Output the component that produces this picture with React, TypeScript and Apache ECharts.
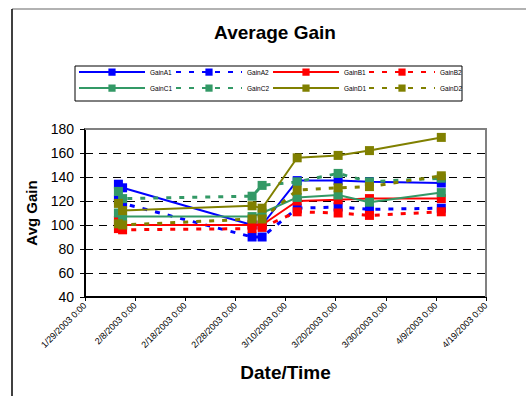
import React, { useEffect, useRef } from "react";
import * as echarts from "echarts";

// Sampling times for every gain series (UTC)
const sampleTimes = [
  "2003-02-04T16:00:00Z",
  "2003-02-05T12:00:00Z",
  "2003-03-03T08:00:00Z",
  "2003-03-05T08:00:00Z",
  "2003-03-12T08:00:00Z",
  "2003-03-20T12:00:00Z",
  "2003-03-26T18:00:00Z",
  "2003-04-10T02:00:00Z",
];

const tickLabels = [
  "1/29/2003 0:00",
  "2/8/2003 0:00",
  "2/18/2003 0:00",
  "2/28/2003 0:00",
  "3/10/2003 0:00",
  "3/20/2003 0:00",
  "3/30/2003 0:00",
  "4/9/2003 0:00",
  "4/19/2003 0:00",
];

const gainA1 = [134, 131, 100, 100, 137, 137, 136, 135];
const gainA2 = [121, 118, 90, 90, 114, 115, 113, 114];
const gainB1 = [104, 100, 100, 100, 120, 121, 122, 122];
const gainB2 = [97, 96, 97, 98, 111, 110, 108, 111];
const gainC1 = [110, 107, 107, 110, 123, 125, 119, 127];
const gainC2 = [128, 122, 124, 133, 136, 143, 136, 139];
const gainD1 = [118, 112, 116, 114, 156, 158, 162, 173];
const gainD2 = [101, 100, 105, 105, 129, 131, 132, 141];

const seriesNames = ["GainA1", "GainA2", "GainB1", "GainB2", "GainC1", "GainC2", "GainD1", "GainD2"];
const seriesValues = [gainA1, gainA2, gainB1, gainB2, gainC1, gainC2, gainD1, gainD2];
const seriesColors = ["#0000FF", "#0000FF", "#FF0000", "#FF0000", "#339966", "#339966", "#808000", "#808000"];

const axisStart = Date.UTC(2003, 0, 29);
const DAY = 86400000;
const dayOffsets = sampleTimes.map((t) => (Date.parse(t) - axisStart) / DAY);

const W = 526;
const H = 396;
const FONT = "'Liberation Sans', Arial, sans-serif";

const grid = { left: 85, top: 129, right: 40, bottom: 99 };
const plotRight = W - grid.right;
const plotBottom = H - grid.bottom;

// legend cells: column x positions and row centers
const legendCols = [78, 175, 272, 368];
const legendRows = [73, 89];

export default function App() {
  const ref = useRef<HTMLDivElement>(null);

  useEffect(() => {
    if (!ref.current) return;
    const chart = echarts.init(ref.current, undefined, { renderer: "svg" });

    const series = seriesNames.map((name, i) => {
      const dashed = i % 2 === 1;
      return {
        name,
        type: "line",
        data: seriesValues[i].map((v, k) => [dayOffsets[k], v]),
        symbol: "rect",
        symbolSize: 9,
        showSymbol: true,
        itemStyle: { color: seriesColors[i] },
        lineStyle: dashed
          ? { color: seriesColors[i], width: 3, type: [5, 8], cap: "butt" }
          : { color: seriesColors[i], width: 2, type: "solid" },
        z: 2 + i,
      };
    });

    const legends = seriesNames.map((name, i) => ({
      data: [name],
      left: legendCols[i % 4],
      top: legendRows[Math.floor(i / 4)] - 4.5,
      padding: 0,
      itemWidth: 66,
      itemHeight: 9,
      textStyle: { fontSize: 6.5, color: "#000", fontFamily: FONT },
      selectedMode: false,
    }));

    chart.setOption({
      animation: false,
      backgroundColor: "#fff",
      title: {
        text: "Average Gain",
        left: 270,
        top: 18,
        textAlign: "center",
        textStyle: { fontSize: 19, fontWeight: "bold", color: "#000", fontFamily: FONT },
      },
      legend: legends,
      grid: { left: grid.left, top: grid.top, right: grid.right, bottom: grid.bottom },
      xAxis: {
        type: "value",
        min: 0,
        max: 80,
        interval: 10,
        name: "Date/Time",
        nameLocation: "middle",
        nameGap: 66,
        nameTextStyle: { fontSize: 19, fontWeight: "bold", color: "#000", fontFamily: FONT },
        axisLine: { show: true, onZero: false, lineStyle: { color: "#000", width: 2 } },
        axisTick: { show: true, length: 4, lineStyle: { color: "#000" } },
        splitLine: { show: false },
        axisLabel: {
          rotate: 45,
          margin: 7,
          fontSize: 9,
          color: "#000",
          fontFamily: FONT,
          formatter: (v: number) => tickLabels[Math.round(v / 10)] ?? "",
        },
      },
      yAxis: {
        type: "value",
        min: 40,
        max: 180,
        interval: 20,
        name: "Avg Gain",
        nameLocation: "middle",
        nameGap: 46,
        nameTextStyle: { fontSize: 15, fontWeight: "bold", color: "#000", fontFamily: FONT },
        axisLine: { show: true, onZero: false, lineStyle: { color: "#000", width: 2 } },
        axisTick: { show: true, length: 5, lineStyle: { color: "#000" } },
        axisLabel: { fontSize: 14, color: "#000", fontFamily: FONT, margin: 11 },
        splitLine: { show: true, lineStyle: { color: "#000", width: 1, type: [8, 6] } },
      },
      graphic: [
        // chart frame edges
        { type: "line", shape: { x1: 12, y1: 9, x2: W, y2: 9 }, style: { stroke: "#999", lineWidth: 1.5 }, z: 1 },
        { type: "line", shape: { x1: 12, y1: 9, x2: 12, y2: H }, style: { stroke: "#000", lineWidth: 1.5 }, z: 1 },
        // legend box
        { type: "rect", shape: { x: 75, y: 66, width: 387, height: 35 }, style: { fill: "none", stroke: "#000", lineWidth: 1 }, z: 1 },
        // plot area top and right border
        { type: "line", shape: { x1: grid.left, y1: grid.top, x2: plotRight + 1, y2: grid.top }, style: { stroke: "#808080", lineWidth: 2 }, z: 20 },
        { type: "line", shape: { x1: plotRight, y1: grid.top, x2: plotRight, y2: plotBottom }, style: { stroke: "#808080", lineWidth: 2 }, z: 20 },
      ],
      series,
    });

    return () => chart.dispose();
  }, []);

  return (
    <div
      ref={ref}
      style={{ position: "fixed", left: 0, top: 0, width: W, height: H, background: "#fff" }}
    />
  );
}
